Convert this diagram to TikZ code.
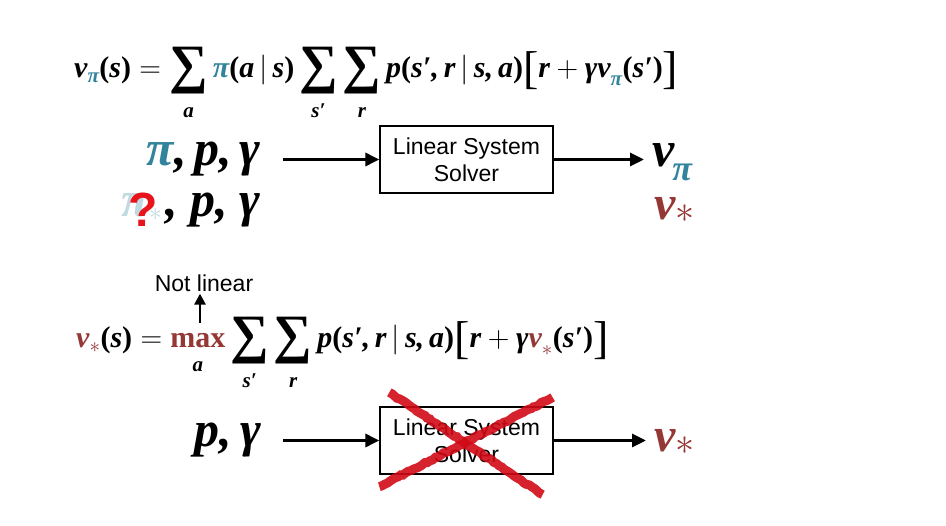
\documentclass[tikz,border=0pt]{standalone}
\usepackage{fix-cm}
\usepackage{amsmath}
\usepackage{fontspec}
\setmainfont{Liberation Serif}
\setsansfont{Liberation Sans}
\usetikzlibrary{arrows.meta,calc,decorations.pathmorphing}
\definecolor{ink}{HTML}{000000}
\definecolor{policy}{HTML}{31849B}
\definecolor{optimal}{HTML}{953735}
\definecolor{cross}{HTML}{D00A16}
\definecolor{query}{HTML}{E8131B}
\newcommand\mv[1]{\text{\bfseries\itshape #1}}
\newcommand\up[1]{\textup{#1}}
\newcommand\under[1]{\mv{\rule{0pt}{19pt}#1}}
\newcommand\bigsum{\mathop{\vcenter{\hbox{\fontsize{54}{54}\selectfont\bfseries ∑}}}\limits}
\newcommand\lbrk{\mathopen{\vcenter{\hbox{\fontsize{46}{46}\selectfont [}}}}
\newcommand\rbrk{\mathclose{\vcenter{\hbox{\fontsize{46}{46}\selectfont ]}}}}

\begin{document}
\begin{tikzpicture}[x=1pt,y=-1pt,
  every node/.style={text=ink,inner sep=2pt},
  flow/.style={-{Triangle[length=14pt,width=13pt]},line width=3.2pt},
  equation/.style={font=\fontsize{30}{36}\selectfont,anchor=base west,inner sep=0pt},
  symbols/.style={font=\fontsize{50}{54}\selectfont\bfseries\itshape,anchor=east},
  value/.style={font=\fontsize{50}{56}\selectfont\bfseries\itshape,anchor=base west,inner sep=0pt},
  solver/.style={draw=ink,line width=1.3pt,minimum width=173pt,minimum height=67pt,
    font=\sffamily\fontsize{23}{27}\selectfont,align=center,inner sep=0pt},
  note/.style={font=\sffamily\fontsize{23}{27}\selectfont},
  chalk/.style={draw=cross,line width=9pt,opacity=.9,decorate,
    decoration={random steps,segment length=3pt,amplitude=.7pt}}]
\useasboundingbox (0,0) rectangle (946,526);

% Bellman equation for a given policy
\node[equation] (bellmanpi) at (74,78)
  {$\displaystyle \mv{v}_{\mv{\color{policy}π}}\mv{\up{(}s\up{)}} = \bigsum_{\under{a}}\mv{\color{policy}π}\mv{\up{(}a}\,|\,\mv{s\up{)}}
   \bigsum_{\under{s′}}\bigsum_{\under{r}}\mv{p\up{(}s′,\,r}\,|\,\mv{s,\,a\up{)}}\lbrk\mv{r} + \mv{γv}_{\mv{\color{policy}π}}\mv{\up{(}s′\up{)}}\rbrk$};

% first row: policy evaluation is a linear solve
\node[symbols] (inpi) at (263,159.5) {\textcolor{policy}{π},\hspace{8pt}p,\hspace{8pt}γ};
\node[solver] (solverpi) at (466.5,159.5) {Linear System\\Solver};
\node[value] (outpi) at (652,167)
  {v\hspace{-2pt}\raisebox{-14pt}{\fontsize{36}{38}\selectfont\textcolor{policy}{π}}};
\draw[flow] ($(inpi.east)+(20,0)$) -- (solverpi.west);
\draw[flow] (solverpi.east) -- ($(solverpi.east -| outpi.west)+(-8,0)$);

% second row: the optimal policy is unknown
\node[symbols] (inopt) at (263,210)
  {\textcolor{policy!30}{π\raisebox{-4pt}{\fontsize{26}{28}\selectfont$*$}}\hspace{4pt},\hspace{12pt}p,\hspace{12pt}γ};
\node[font=\sffamily\bfseries\fontsize{48}{50}\selectfont,text=query,inner sep=0pt]
  (qmark) at ($(inopt.east)+(-120,0)$) {?};
\node[value,text=optimal,font=\fontsize{48}{52}\selectfont\bfseries\itshape] (outopt) at (654,220)
  {v\raisebox{-3pt}{\fontsize{38}{40}\selectfont$*$}};

% Bellman optimality equation
\node[equation] (bellmanopt) at (76,348)
  {$\displaystyle \mv{\color{optimal}v}_{\color{optimal}*}\mv{\up{(}s\up{)}} =
   \mathop{\text{\bfseries\color{optimal}max}}\limits_{\under{a}}\bigsum_{\under{s′}}\bigsum_{\under{r}}
   \mv{p\up{(}s′,\,r}\,|\,\mv{s,\,a\up{)}}\lbrk\mv{r} + \mv{γ\color{optimal}v}_{\color{optimal}*}\mv{\up{(}s′\up{)}}\rbrk$};
\node[note] (nonlin) at (204,283) {Not linear};
\coordinate (maxtop) at (200,323);
\draw[flow,line width=2.6pt,-{Triangle[length=11pt,width=11pt]}] (maxtop) -- (maxtop |- nonlin.south);

% third row: no linear solver for the optimal values
\node[symbols] (inp) at (263,440.5) {p,\hspace{8pt}γ};
\node[solver] (solveropt) at (466.5,440.5) {Linear System\\Solver};
\node[value,text=optimal,font=\fontsize{48}{52}\selectfont\bfseries\itshape] (outp) at (654,452)
  {v\raisebox{-3pt}{\fontsize{38}{40}\selectfont$*$}};
\draw[flow] ($(inp.east)+(20,0)$) -- (solveropt.west);
\draw[flow] (solveropt.east) -- ($(solveropt.east -| outp.west)+(-8,0)$);

\draw[chalk] ($(solveropt.north west)+(10,-14)$) -- ($(solveropt.south east)+(-11,20)$);
\draw[chalk] ($(solveropt.north east)+(-1,-9)$) -- ($(solveropt.south west)+(0,12)$);
\end{tikzpicture}
\end{document}
